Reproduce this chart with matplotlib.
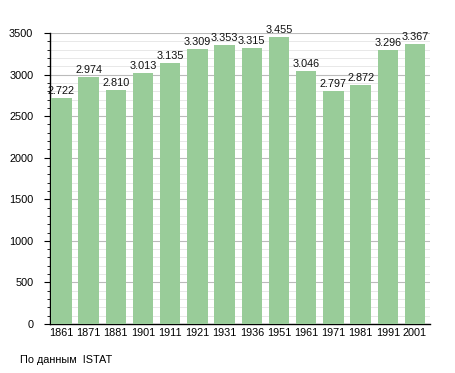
import numpy as np
import matplotlib
matplotlib.use('Agg')
import matplotlib.pyplot as plt
from matplotlib.ticker import MultipleLocator

years = ['1861', '1871', '1881', '1901', '1911', '1921', '1931', '1936',
         '1951', '1961', '1971', '1981', '1991', '2001']
population = [2722, 2974, 2810, 3013, 3135, 3309, 3353, 3315,
              3455, 3046, 2797, 2872, 3296, 3367]
source_text = 'По данным  ISTAT'

plt.rcParams['font.family'] = ['Liberation Sans', 'DejaVu Sans']

fig = plt.figure(figsize=(4.55, 3.73), dpi=100)
ax = fig.add_axes([50 / 455, 49 / 373, 380 / 455, 291 / 373])

x = np.arange(len(years))
ax.bar(x, population, width=0.75, color='#99cc99', zorder=3)

for xi, v in zip(x, population):
    label = '{:,}'.format(v).replace(',', '.')
    ax.text(xi, v + 25, label, ha='center', va='bottom', fontsize=7.8,
            color='#111111', zorder=4)

ax.set_xlim(-0.42, len(years) - 0.45)
ax.set_ylim(0, 3500)
ax.set_xticks(x)
ax.set_xticklabels(years, fontsize=7.8)
ax.yaxis.set_major_locator(MultipleLocator(500))
ax.yaxis.set_minor_locator(MultipleLocator(100))
ax.tick_params(axis='y', labelsize=7.8, length=4, width=0.8, pad=8)
ax.tick_params(axis='y', which='minor', length=2, width=0.6)
ax.tick_params(axis='x', length=0, pad=3)

ax.grid(axis='y', which='major', color='#bbbbbb', linewidth=0.8, zorder=0)
ax.grid(axis='y', which='minor', color='#e4e4e4', linewidth=0.6, zorder=0)

ax.spines['top'].set_visible(False)
ax.spines['right'].set_visible(False)
ax.spines['left'].set_linewidth(1.0)
ax.spines['bottom'].set_linewidth(1.0)

fig.text(20 / 455, 1 - 360 / 373, source_text, fontsize=7.8, va='center', ha='left')

fig.savefig('out.png', dpi=100)
